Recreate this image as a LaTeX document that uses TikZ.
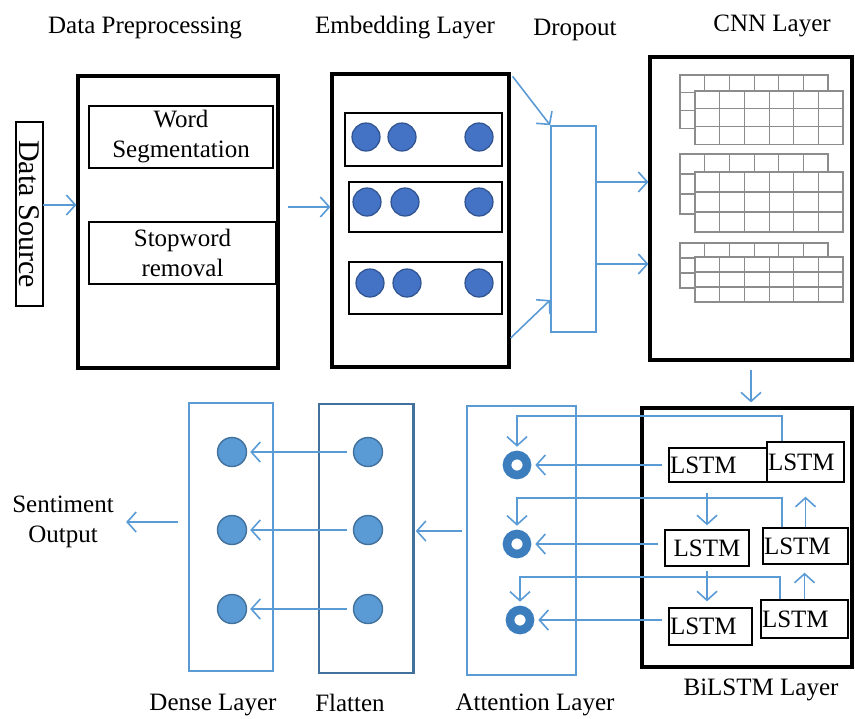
\documentclass[tikz,border=0pt]{standalone}
\usepackage{fontspec}
\setmainfont{Liberation Serif}
\usetikzlibrary{arrows.meta}

\definecolor{linkblue}{RGB}{91,155,213}
\definecolor{embfill}{RGB}{68,114,196}
\definecolor{embedge}{RGB}{47,82,143}
\definecolor{unitfill}{RGB}{91,155,213}
\definecolor{unitedge}{RGB}{65,113,156}
\definecolor{ringblue}{RGB}{60,125,190}
\definecolor{sheetgray}{RGB}{140,140,140}

\tikzset{
  layerbox/.style={draw, line width=1.6pt, inner sep=0pt},
  subbox/.style={draw, line width=0.6pt, inner sep=0pt, align=center},
  bluebox/.style={draw=linkblue, line width=0.8pt, inner sep=0pt},
  lstmbox/.style={draw, line width=0.7pt, inner sep=0.5pt, align=left},
  embunit/.style={circle, fill=embfill, draw=embedge, line width=0.6pt, minimum size=14pt, inner sep=0pt},
  denseunit/.style={circle, fill=unitfill, draw=unitedge, line width=0.7pt, minimum size=14.5pt, inner sep=0pt},
  attring/.style={circle, draw=ringblue, fill=white, line width=4.3pt, minimum size=10pt, inner sep=0pt},
  flowarrow/.style={draw=linkblue, line width=0.8pt, -{Straight Barb[length=4.5pt,width=10pt]}},
  sheet/.style={draw=sheetgray, line width=0.6pt},
  headlabel/.style={inner sep=0pt},
}

% one 6x3 feature sheet of the CNN layer
\newcommand{\cnnsheet}[3]{%
  \filldraw[sheet, fill=white] (#1,#2) rectangle ++(148,3*#3);
  \foreach \c in {1,...,5} \draw[sheet] (#1+\c*24.7,#2) -- ++(0,3*#3);
  \foreach \r in {1,2} \draw[sheet] (#1,#2+\r*#3) -- ++(148,0);
}

\begin{document}
\begin{tikzpicture}[x=0.5pt, y=-0.5pt, font=\fontsize{12.5}{15}\selectfont]

  \useasboundingbox (0,0) rectangle (855,718);

  % titles
  \node[headlabel] at (145,28) {Data Preprocessing};
  \node[headlabel] at (405,28) {Embedding Layer};
  \node[headlabel] at (575,30) {Dropout};
  \node[headlabel] at (772,26) {CNN Layer};
  \node[headlabel] at (213,705) {Dense Layer};
  \node[headlabel] at (350,703) {Flatten};
  \node[headlabel] at (535,705) {Attention Layer};
  \node[headlabel] at (761,690) {BiLSTM Layer};

  % data source and preprocessing
  \node[subbox, minimum width=92pt, minimum height=13.5pt, rotate=-90,
        font=\fontsize{15}{17}\selectfont] (src) at (29.5,214) {Data Source};
  \node[layerbox, minimum width=100pt, minimum height=146pt] (prep) at (178,222) {};
  \node[subbox, minimum width=92pt, minimum height=31pt] (seg) at (181,137) {Word\\Segmentation};
  \node[subbox, minimum width=93.5pt, minimum height=31pt] (stop) at (182.5,253) {Stopword\\removal};
  \draw[flowarrow] (43,205) -- (prep.west |- 0,205);

  % embedding layer
  \node[layerbox, minimum width=88.5pt, minimum height=146.5pt] (emb) at (420.5,220.5) {};
  \node[subbox, minimum width=78.5pt, minimum height=26.5pt] (row1) at (423.5,139.5) {};
  \node[subbox, minimum width=76.5pt, minimum height=25pt] (row2) at (425.5,207) {};
  \node[subbox, minimum width=76.5pt, minimum height=26pt] (row3) at (425.5,288) {};
  \foreach \r/\y/\xa/\xb in {1/137/366/402, 2/202/367/405, 3/283/370/407} {
    \node[embunit] (e\r a) at (\xa,\y) {};
    \node[embunit] (e\r b) at (\xb,\y) {};
    \node[embunit] (e\r c) at (479,\y) {};
  }
  \draw[flowarrow] (288,207) -- (emb.west |- 0,207);

  % dropout
  \node[bluebox, minimum width=22.5pt, minimum height=103pt] (drop) at (573.5,229) {};
  \draw[flowarrow] (emb.north east) ++(2,4) -- (drop.north west);
  \draw[flowarrow] (emb.east |- 0,338) -- (drop.west |- 0,300);

  % cnn layer
  \node[layerbox, minimum width=101pt, minimum height=151.5pt] (cnn) at (751,208.5) {};
  \foreach \gy/\gh/\gd in {75/17.7/16, 154/20/18, 243/15/14} {
    \cnnsheet{680}{\gy}{\gh}
    \cnnsheet{695}{\gy+\gd}{\gh}
  }
  \draw[flowarrow] (drop.east |- 0,182) -- (cnn.west |- 0,182);
  \draw[flowarrow] (drop.east |- 0,264) -- (cnn.west |- 0,264);

  % bilstm layer
  \node[layerbox, minimum width=105pt, minimum height=129.5pt] (bil) at (747,537.5) {};
  \draw[flowarrow, shorten <=4pt, shorten >=2pt] (cnn.south) -- (cnn.south |- bil.north);
  \node[lstmbox, text width=48pt, minimum height=17pt] (f1) at (718,465) {LSTM};
  \node[lstmbox, text width=37.5pt, minimum height=20pt] (b1) at (805.5,462) {LSTM};
  \node[lstmbox, text width=41pt, minimum height=18pt, align=center] (f2) at (707,548) {LSTM};
  \node[lstmbox, text width=41.5pt, minimum height=18pt] (b2) at (805.5,546) {LSTM};
  \node[lstmbox, text width=40.5pt, minimum height=18.5pt] (f3) at (710.5,626.5) {LSTM};
  \node[lstmbox, text width=42.5pt, minimum height=19pt] (b3) at (804.5,619) {LSTM};
  \draw[flowarrow, shorten <=5pt, shorten >=2pt] (f2.north |- f1.south) -- (f2.north);
  \draw[flowarrow, shorten <=2pt, shorten >=3pt] (f2.south) -- (f2.south |- f3.north);
  \draw[flowarrow, shorten >=7pt] (b2.north) -- (b2.north |- b1.south);
  \draw[flowarrow, shorten >=4pt] (b3.north) -- (b3.north |- b2.south);

  % attention layer
  \node[bluebox, minimum width=54.5pt, minimum height=134.5pt] (att) at (521.5,540.5) {};
  \node[attring] (r1) at (517,465) {};
  \node[attring] (r2) at (517,544) {};
  \node[attring] (r3) at (520,620) {};
  \draw[flowarrow, shorten <=3pt, shorten >=2pt] (f1.west |- r1) -- (r1.east);
  \draw[flowarrow, shorten <=3pt, shorten >=2pt] (f2.west |- r2) -- (r2.east);
  \draw[flowarrow, shorten <=3pt, shorten >=2pt] (f3.west |- r3) -- (r3.east);
  \draw[flowarrow, shorten >=2pt] (b1.north -| 782,0) |- (r1.north |- 0,416) -- (r1.north);
  \draw[flowarrow, shorten >=2pt] (b2.north -| 782,0) |- (r2.north |- 0,498) -- (r2.north);
  \draw[flowarrow, shorten >=2pt] (b3.north -| 780,0) |- (r3.north |- 0,577) -- (r3.north);

  % flatten and dense
  \node[bluebox, draw=unitedge, minimum width=47pt, minimum height=134.5pt] (flat) at (366,538.5) {};
  \draw[unitedge, line width=1.6pt] (flat.north east) -- (flat.south east);
  \node[bluebox, minimum width=42pt, minimum height=134pt] (dense) at (231,537) {};
  \draw[flowarrow, shorten <=2pt, shorten >=1pt] (att.west |- 0,531) -- (flat.east |- 0,531);
  \foreach \i/\y in {1/452, 2/530, 3/609} {
    \node[denseunit] (fl\i) at (368,\y) {};
    \node[denseunit] (dn\i) at (232,\y) {};
    \draw[flowarrow, shorten <=3pt, shorten >=1.5pt] (fl\i.west) -- (dn\i.east);
  }

  % output
  \node[align=center, inner sep=0pt] (out) at (63,522) {Sentiment\\Output};
  \draw[flowarrow, shorten <=5pt, shorten >=6pt] (dense.west |- out.east) -- (out.east);

\end{tikzpicture}
\end{document}
